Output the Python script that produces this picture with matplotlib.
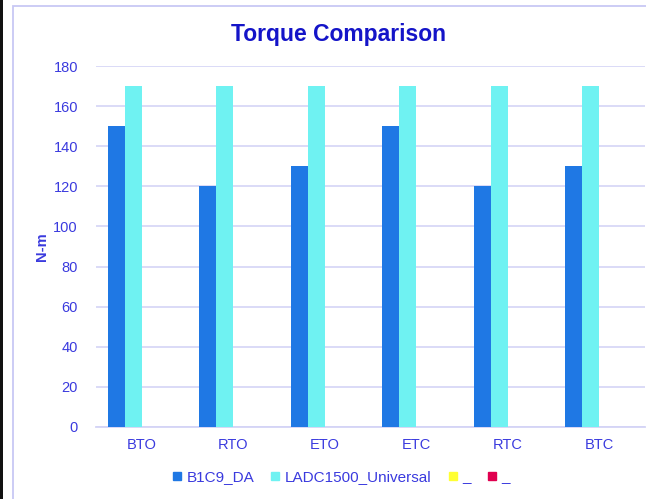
import matplotlib
matplotlib.use("Agg")
import matplotlib.pyplot as plt
from matplotlib.lines import Line2D
from matplotlib.patches import Rectangle
import numpy as np

plt.rcParams['font.family'] = ['Liberation Sans', 'DejaVu Sans']

categories = ["BTO", "RTO", "ETO", "ETC", "RTC", "BTC"]
series_names = ["B1C9_DA", "LADC1500_Universal", "_", "_"]
b1c9_da = [150, 120, 130, 150, 120, 130]
ladc1500_universal = [170, 170, 170, 170, 170, 170]
blank_yellow = [0, 0, 0, 0, 0, 0]
blank_red = [0, 0, 0, 0, 0, 0]
y_ticks = [0, 20, 40, 60, 80, 100, 120, 140, 160, 180]

colors = ["#1f78e4", "#6ff2f2", "#ffff33", "#e0004f"]
text_blue = "#3a3ade"
title_blue = "#1414c8"
grid_color = "#d4d4f6"

W, H = 646, 499
fig = plt.figure(figsize=(W / 100, H / 100), dpi=100)

# outer chart frame and dark strip at the left edge
fig.patches.append(Rectangle((0, 0), 2.5 / W, 1, transform=fig.transFigure,
                             facecolor="#111111", edgecolor="none", zorder=0))
fig.patches.append(Rectangle((12.5 / W, -0.1), 1.2, 1.1 - 6 / H,
                             transform=fig.transFigure, facecolor="none",
                             edgecolor="#c8c8f4", linewidth=1.3, zorder=0))

ax = fig.add_axes([96 / W, 72 / H, 549 / W, 361 / H])
x = np.arange(len(categories))
bw = 0.186
all_series = [b1c9_da, ladc1500_universal, blank_yellow, blank_red]
for i, (vals, c) in enumerate(zip(all_series, colors)):
    ax.bar(x + (i - 1.5) * bw, vals, width=bw, color=c, zorder=3)

ax.set_xlim(-0.5, len(categories) - 0.5)
ax.set_ylim(0, 180)
ax.set_yticks(y_ticks)
ax.set_xticks(x)
ax.set_xticklabels(categories)
ax.tick_params(axis="both", length=0, colors=text_blue, labelsize=10.5)
ax.tick_params(axis="y", pad=13)
ax.tick_params(axis="x", pad=8)
ax.grid(axis="y", color=grid_color, linewidth=1.2, zorder=0)
for s in ["top", "right", "left"]:
    ax.spines[s].set_visible(False)
ax.spines["bottom"].set_color(grid_color)
ax.spines["bottom"].set_linewidth(1.3)
ax.set_facecolor("none")

fig.text(338 / W, 1 - 34 / H, "Torque Comparison", ha="center", va="center",
         fontsize=16.5, fontweight="bold", color=title_blue)
fig.text(42 / W, 1 - 247 / H, "N-m", ha="center", va="center", rotation=90,
         fontsize=10.5, fontweight="bold", color=text_blue)

handles = [Line2D([0], [0], marker="s", linestyle="none", markersize=6,
                  markerfacecolor=c, markeredgecolor=c) for c in colors]
leg = fig.legend(handles, series_names, loc="center", ncol=4,
                 bbox_to_anchor=(341 / W, 1 - 477 / H), frameon=False,
                 fontsize=11, handlelength=0.6, handletextpad=0.3,
                 columnspacing=1.1, labelcolor=text_blue)

fig.savefig("out.png", dpi=100, facecolor="white")
